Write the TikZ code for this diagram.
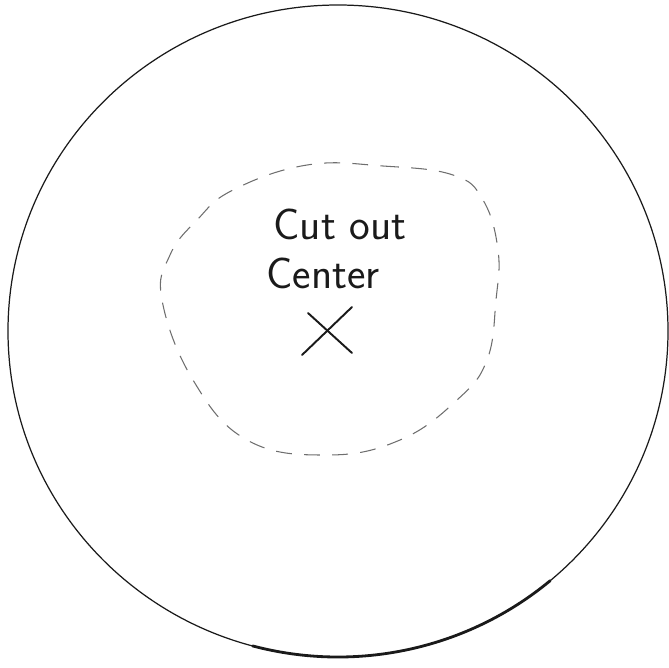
\documentclass[tikz,border=0pt]{standalone}
\usepackage{tikz}
\usetikzlibrary{calc}
\definecolor{inkDark}{HTML}{1A1A1A}
\definecolor{inkFaint}{HTML}{6E6E6E}

\begin{document}
\begin{tikzpicture}[
  x=0.02cm, y=-0.02cm,
  rim/.style={draw=inkDark, line width=0.7pt},
  rimheavy/.style={draw=inkDark, line width=1.6pt, line cap=round},
  cutline/.style={draw=inkFaint, line width=0.6pt, dash pattern=on 9pt off 7pt},
  lbl/.style={font=\sffamily\fontsize{25}{27}\selectfont, text=inkDark, inner sep=0pt},
  xmark/.style={draw=inkDark, line width=1.1pt, line cap=round},
]
\useasboundingbox (0,0) rectangle (669,667);

% =============================== outer disc ================================
\coordinate (disc) at (338,331);
\draw[rim] (disc) ellipse [x radius=330, y radius=326];

% heavier stroke along the bottom
\draw[rimheavy] ($(disc)+(105:330 and 326)$) arc [start angle=105, end angle=50,
  x radius=330, y radius=326];

% =============================== cut-out ===================================
\draw[cutline] plot[smooth cycle, tension=0.7] coordinates {
  (307,165) (383,166) (453,175) (483,200) (498,250) (496,300) (487,360)
  (457,400) (400,440) (327,455) (247,440) (193,380) (162,300) (170,255)
  (197,220) (233,190)};

% =============================== labels ====================================
\node[lbl] (cutTxt)    at (340,224) {Cut out};
\node[lbl] (centerTxt) at (323,273) {Center};

% centre mark
\coordinate (mid) at (328,331);
\draw[xmark] ($(mid)+(-26,24)$) -- ($(mid)+(24,-24)$);
\draw[xmark] ($(mid)+(-20,-18)$) -- ($(mid)+(24,22)$);

\end{tikzpicture}
\end{document}
